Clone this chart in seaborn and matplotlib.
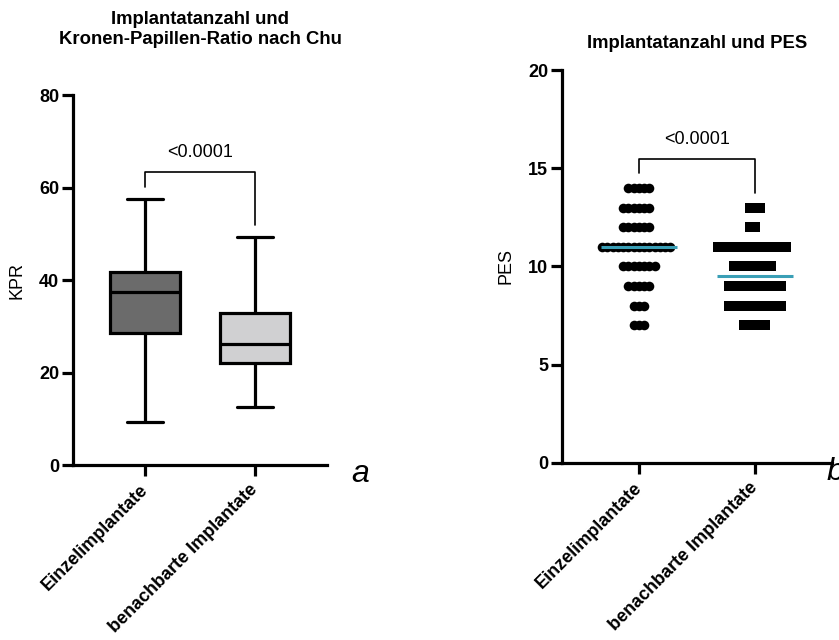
import numpy as np
import pandas as pd

import matplotlib as mpl
mpl.use('Agg')
import seaborn as sns
import matplotlib.pyplot as plt

sns.set_style('ticks', rc={'axes.edgecolor': 'black', 'xtick.color': 'black',
                           'ytick.color': 'black', 'text.color': 'black',
                           'axes.labelcolor': 'black'})
plt.rcParams['font.family'] = ['Liberation Sans', 'DejaVu Sans']

categories = ['Einzelimplantate', 'benachbarte Implantate']

# panel a: five-number summaries (min, Q1, median, Q3, max)
kpr_einzel = [9.4, 28.5, 37.5, 41.8, 57.5]
kpr_benachbart = [12.5, 22.0, 26.2, 32.9, 49.4]

# panel b: number of implants per PES score
pes_levels = [7, 8, 9, 10, 11, 12, 13, 14]
pes_n_einzel = [3, 3, 5, 7, 14, 6, 6, 5]
pes_n_benachbart = [5, 11, 11, 8, 14, 2, 3, 0]

p_text = '<0.0001'
box_colors = ['#6b6b6b', '#d0d0d2']
median_color = '#3a9fb6'
markers = {0: 'o', 1: 's'}
marker_sizes = {0: 48, 1: 54}

kpr_df = pd.DataFrame({
    'Gruppe': np.repeat(categories, 5),
    'KPR': kpr_einzel + kpr_benachbart,
})
pes_einzel = np.repeat(pes_levels, pes_n_einzel)
pes_benachbart = np.repeat(pes_levels, pes_n_benachbart)
pes_df = pd.DataFrame({
    'Gruppe': [categories[0]] * len(pes_einzel) + [categories[1]] * len(pes_benachbart),
    'PES': np.concatenate([pes_einzel, pes_benachbart]),
})

fig = plt.figure(figsize=(8.39, 6.40), dpi=100)
ax1 = fig.add_axes([0.087, 0.2734, 0.3027, 0.578])
ax2 = fig.add_axes([0.6698, 0.2766, 0.3218, 0.614])

# ---- panel a: box plot
sns.boxplot(data=kpr_df, x='Gruppe', y='KPR', hue='Gruppe',
            order=categories, hue_order=categories, palette=box_colors,
            width=0.64, whis=(0, 100), linewidth=2.3, linecolor='black',
            saturation=1, legend=False, ax=ax1)
ax1.plot([0, 0, 1, 1], [60.2, 63.4, 63.4, 52], color='black', lw=1.2)
ax1.text(0.5, 67.5, p_text, ha='center', va='center', fontsize=13)
ax1.set_ylim(0, 80)
ax1.set_yticks([0, 20, 40, 60, 80])
ax1.set_xlim(-0.655, 1.655)
ax1.set_ylabel('KPR', fontsize=13, labelpad=10)
ax1.set_title('Implantatanzahl und\nKronen-Papillen-Ratio nach Chu',
              fontsize=13.3, fontweight='bold', pad=37)

# ---- panel b: scatter dot plot
sns.swarmplot(data=pes_df, x='Gruppe', y='PES', order=categories,
              color='black', size=3.6, linewidth=0, ax=ax2)
ax2.set_ylim(0, 20)
ax2.set_yticks([0, 5, 10, 15, 20])
ax2.set_xlim(-0.664, 1.664)
ax2.set_ylabel('PES', fontsize=13, labelpad=10)
ax2.set_title('Implantatanzahl und PES', fontsize=13.3, fontweight='bold', pad=16)

for ax in (ax1, ax2):
    sns.despine(ax=ax)
    for sp in ('left', 'bottom'):
        ax.spines[sp].set_linewidth(2.3)
    ax.tick_params(length=8, width=2.3, labelsize=13, pad=2)
    ax.tick_params(axis='x', pad=8)
    ax.set_xlabel('')
    for lab in ax.get_yticklabels():
        lab.set_fontweight('bold')
    ax.set_xticks(range(len(categories)))
    ax.set_xticklabels(categories, rotation=45, ha='right', va='center',
                       rotation_mode='anchor', fontweight='bold')

# let seaborn lay out the swarm with tight spacing, then redraw those
# positions with bigger markers so neighbours overlap like in the original
fig.canvas.draw()
for coll in list(ax2.collections):
    xy = np.asarray(coll.get_offsets())
    coll.remove()
    if len(xy) == 0:
        continue
    grp = int(round(xy[:, 0].mean()))
    ax2.scatter(xy[:, 0], xy[:, 1], s=marker_sizes[grp], marker=markers[grp],
                color='black', linewidths=0, zorder=3)

ax2.hlines(np.median(pes_einzel), -0.33, 0.33, color=median_color, lw=2.2, zorder=5)
ax2.hlines(np.median(pes_benachbart), 0.67, 1.33, color=median_color, lw=2.2, zorder=5)
ax2.plot([0, 0, 1, 1], [14.74, 15.45, 15.45, 13.72], color='black', lw=1.2)
ax2.text(0.5, 16.44, p_text, ha='center', va='center', fontsize=13)

fig.text(0.419, 0.247, 'a', fontsize=23, style='italic', ha='left', va='baseline')
fig.text(0.985, 0.25, 'b', fontsize=23, style='italic', ha='left', va='baseline')

fig.savefig('out.png', dpi=100)
plt.close()
